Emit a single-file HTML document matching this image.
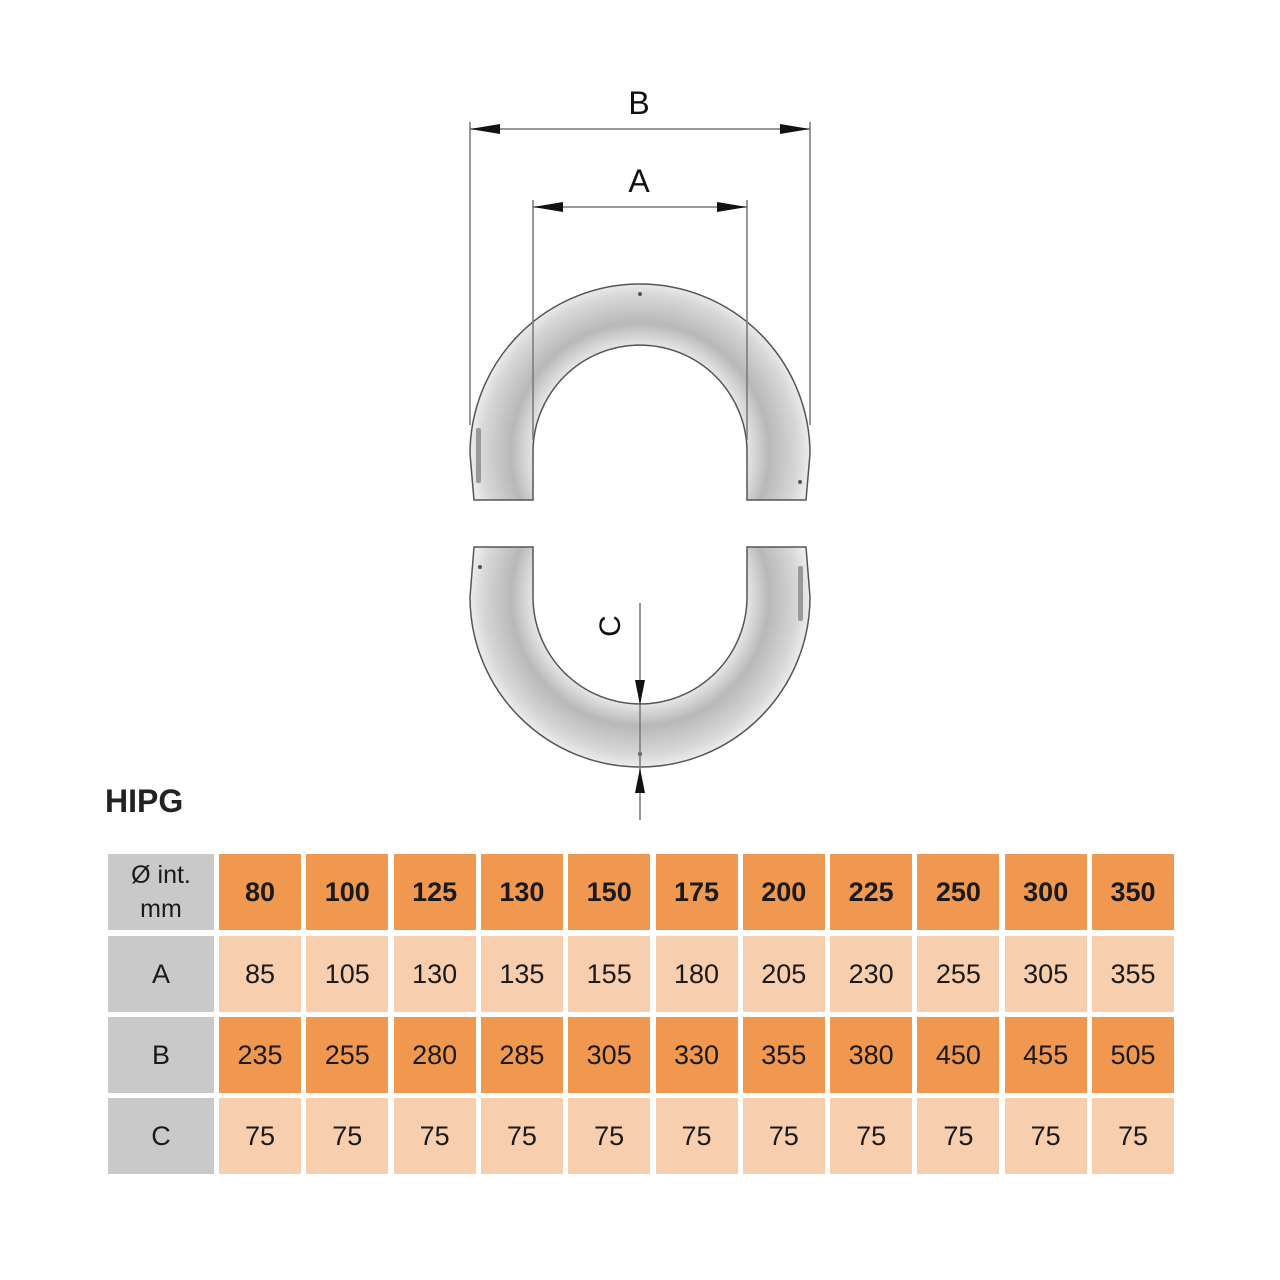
<!DOCTYPE html>
<html><head><meta charset="utf-8"><style>
html,body{margin:0;padding:0;background:#fff;}
body{width:1280px;height:1280px;position:relative;overflow:hidden;font-family:"Liberation Sans",sans-serif;}
.c{position:absolute;display:flex;align-items:center;justify-content:center;font-size:27px;color:#1a1a1a;}
</style></head><body>
<svg width="1280" height="840" style="position:absolute;left:0;top:0">
<defs>
<radialGradient id="g1" gradientUnits="userSpaceOnUse" cx="640" cy="452" r="172">
<stop offset="0.6" stop-color="#eeeeee"/><stop offset="0.75" stop-color="#b8b8b8"/><stop offset="0.92" stop-color="#d8d8d8"/><stop offset="1" stop-color="#f0f0f0"/>
</radialGradient>
<radialGradient id="g2" gradientUnits="userSpaceOnUse" cx="640" cy="597" r="172">
<stop offset="0.6" stop-color="#eeeeee"/><stop offset="0.75" stop-color="#b8b8b8"/><stop offset="0.92" stop-color="#d8d8d8"/><stop offset="1" stop-color="#f0f0f0"/>
</radialGradient>
</defs>
<path d="M474,500 L470,454 A170,170 0 0 1 810,454 L806,500 L747,500 L747,452 A107,107 0 0 0 533,452 L533,500 Z" fill="url(#g1)" stroke="#555" stroke-width="1.5"/>
<rect x="476" y="428" width="5" height="55" rx="2" fill="#999"/>
<circle cx="640" cy="294" r="2" fill="#555"/><circle cx="800" cy="482" r="2" fill="#555"/>
<path d="M474,547 L470,597 A170,170 0 0 0 810,597 L806,547 L747,547 L747,597 A107,107 0 0 1 533,597 L533,547 Z" fill="url(#g2)" stroke="#555" stroke-width="1.5"/>
<rect x="798" y="566" width="5" height="55" rx="2" fill="#999"/>
<circle cx="480" cy="567" r="2" fill="#555"/><circle cx="640" cy="754" r="2" fill="#555"/>
<g stroke="#777" stroke-width="1.5" fill="none">
<line x1="470" y1="122" x2="470" y2="425"/><line x1="810" y1="122" x2="810" y2="425"/>
<line x1="533" y1="200" x2="533" y2="440"/><line x1="747" y1="200" x2="747" y2="440"/>
<line x1="470" y1="129" x2="810" y2="129"/><line x1="533" y1="207" x2="747" y2="207"/>
<line x1="640" y1="603" x2="640" y2="820"/>
</g>
<g fill="#111">
<polygon points="470,129 500,124 500,134"/><polygon points="810,129 780,124 780,134"/>
<polygon points="533,207 563,202 563,212"/><polygon points="747,207 717,202 717,212"/>
<polygon points="640,705 635,680 645,680"/><polygon points="640,768 635,793 645,793"/>
</g>
<text x="639" y="114" font-family="Liberation Sans,sans-serif" font-size="32" text-anchor="middle" fill="#111">B</text>
<text x="639" y="192" font-family="Liberation Sans,sans-serif" font-size="32" text-anchor="middle" fill="#111">A</text>
<text x="0" y="0" transform="translate(620,626) rotate(-90)" font-family="Liberation Sans,sans-serif" font-size="30" text-anchor="middle" fill="#111">C</text>
<text x="105" y="812" font-family="Liberation Sans,sans-serif" font-size="32" font-weight="bold" fill="#222">HIPG</text>
</svg>
<div class="c" style="left:108px;top:854px;width:106px;height:76px;background:#c9c9c9;font-size:25px;line-height:34px;text-align:center;">Ø int.<br>mm</div>
<div class="c" style="left:108px;top:936px;width:106px;height:76px;background:#c9c9c9;">A</div>
<div class="c" style="left:108px;top:1017px;width:106px;height:76px;background:#c9c9c9;">B</div>
<div class="c" style="left:108px;top:1098px;width:106px;height:76px;background:#c9c9c9;">C</div>
<div id="t"></div>
<script>
var h=[80,100,125,130,150,175,200,225,250,300,350],a=[85,105,130,135,155,180,205,230,255,305,355],b=[235,255,280,285,305,330,355,380,450,455,505];
var rows=[[h,854,'#f0984f',1],[a,936,'#f8cfae',0],[b,1017,'#f0984f',0],[h.map(function(){return 75}),1098,'#f8cfae',0]];
var s='';rows.forEach(function(r){r[0].forEach(function(v,i){s+='<div class="c" style="left:'+(219+i*87.3).toFixed(1)+'px;top:'+r[1]+'px;width:82px;height:76px;background:'+r[2]+';'+(r[3]?'font-weight:bold;':'')+'">'+v+'</div>';});});
document.getElementById('t').innerHTML=s;
</script>
</body></html>
